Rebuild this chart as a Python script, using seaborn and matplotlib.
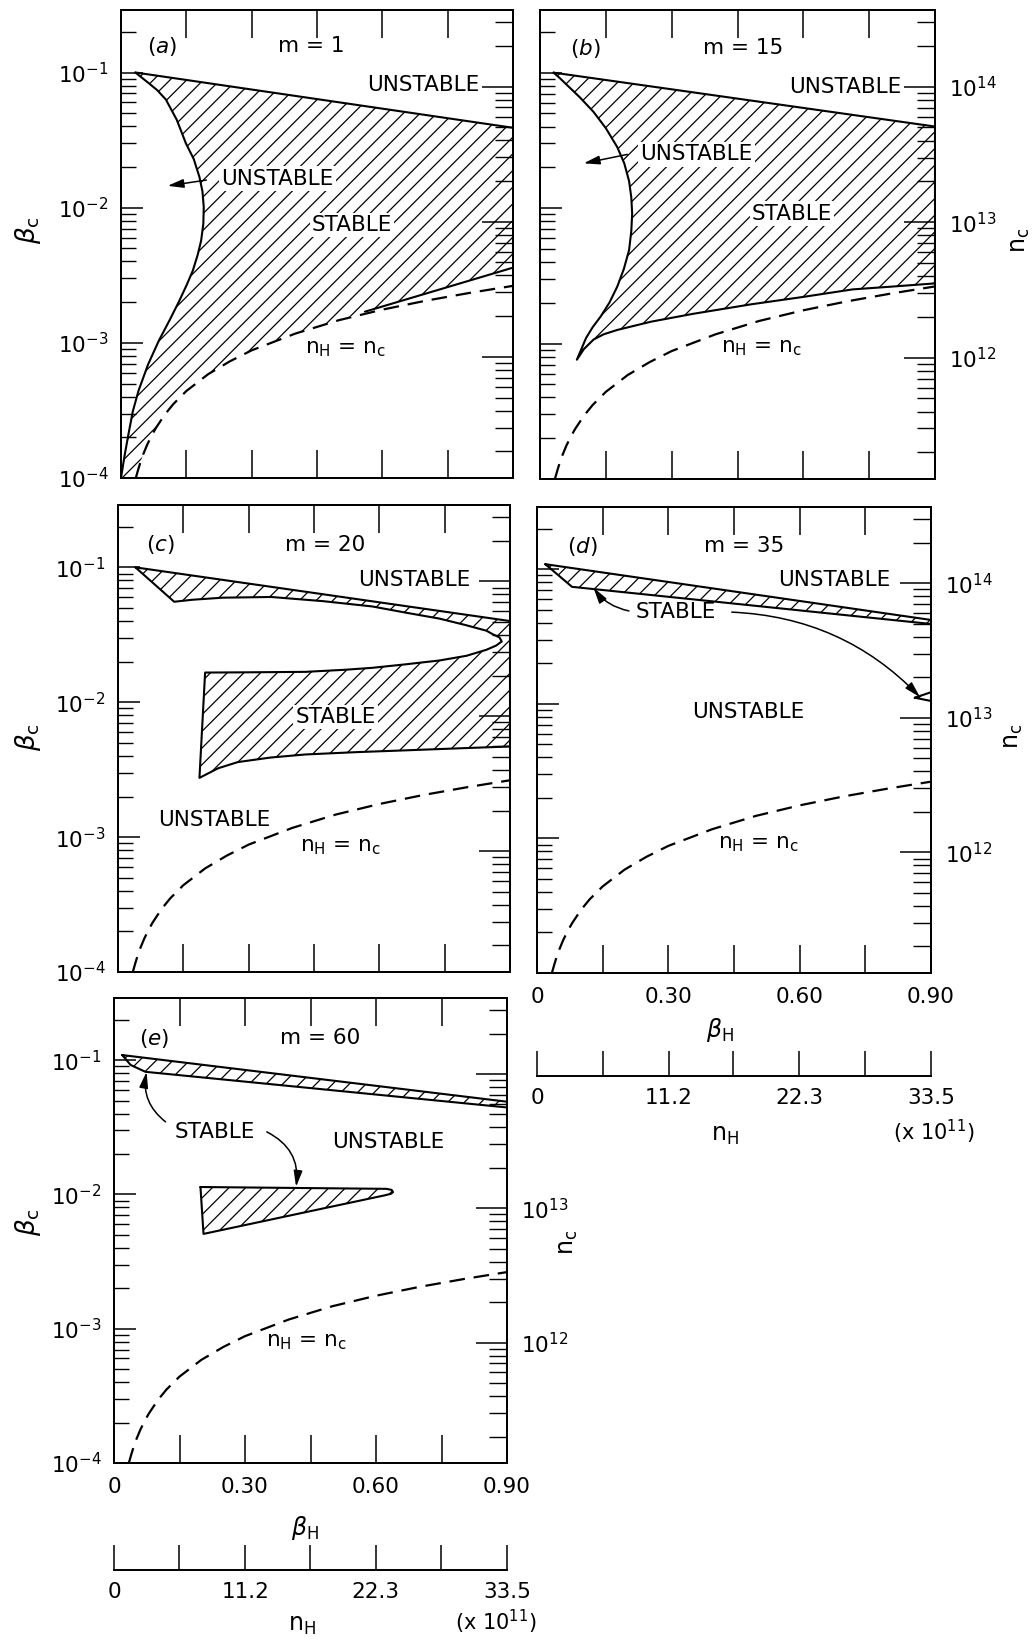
import numpy as np
import matplotlib
matplotlib.use("Agg")
import matplotlib.pyplot as plt
import seaborn as sns
from matplotlib.ticker import LogLocator, NullFormatter

sns.set_theme(style="ticks", rc={
    "axes.linewidth": 1.4,
    "axes.edgecolor": "black",
    "text.color": "black",
    "axes.labelcolor": "black",
    "xtick.color": "black",
    "ytick.color": "black",
    "hatch.linewidth": 0.9,
})
plt.rcParams["font.family"] = ["DejaVu Sans"]
plt.rcParams["mathtext.fontset"] = "dejavusans"

# ---- axes ----
bc_lo, bc_hi = 1e-4, 0.29
bh_ticks = [0, 0.15, 0.30, 0.45, 0.60, 0.75, 0.90]
bh_tick_labels = ["0", "", "0.30", "", "0.60", "", "0.90"]
bc_ticks = [1e-4, 1e-3, 1e-2, 1e-1]
bc_tick_labels = ["10$^{-4}$", "10$^{-3}$", "10$^{-2}$", "10$^{-1}$"]
nc_ticks = [1e12, 1e13, 1e14]
nc_tick_labels = ["10$^{12}$", "10$^{13}$", "10$^{14}$"]
nc_per_bc = 1.27e15          # right axis: n_c = 1.27e15 * beta_c
nh_ticks = [0, 5.58, 11.2, 16.7, 22.3, 27.9, 33.5]
nh_tick_labels = ["0", "", "11.2", "", "22.3", "", "33.5"]

# dashed n_H = n_c curve
eq_bh = [0.034, 0.04, 0.045, 0.05, 0.06, 0.07, 0.08, 0.10, 0.12, 0.15, 0.20, 0.25,
         0.30, 0.40, 0.50, 0.60, 0.70, 0.80, 0.90]
eq_bc = [1.0e-4, 1.17e-4, 1.32e-4, 1.47e-4, 1.76e-4, 2.05e-4, 2.34e-4, 2.93e-4, 3.52e-4,
         4.4e-4, 5.86e-4, 7.3e-4, 8.8e-4, 1.17e-3, 1.47e-3, 1.76e-3, 2.05e-3, 2.34e-3, 2.64e-3]

# ---- (a) m = 1 ----
a_top_bh = [0.033, 0.90]
a_top_bc = [0.100, 0.039]
a_low_bh = [0.56, 0.90]
a_low_bc = [0.0017, 0.0036]
a_nose_bh = [0.033, 0.064, 0.083, 0.103, 0.128, 0.149, 0.167, 0.180, 0.187, 0.190, 0.189,
             0.184, 0.176, 0.165, 0.151, 0.134, 0.112, 0.087, 0.062, 0.040, 0.027, 0.017,
             0.008, 0.0]
a_nose_bc = [0.100, 0.0832, 0.0741, 0.0631, 0.0447, 0.0299, 0.0229, 0.0169, 0.0132, 0.0101,
             0.00759, 0.00571, 0.00447, 0.00343, 0.00269, 0.00205, 0.00148, 0.00104,
             6.9e-4, 4.4e-4, 3.1e-4, 2.1e-4, 1.45e-4, 1.0e-4]

# ---- (b) m = 15 ----
b_bh = [0.031, 0.900, 0.900, 0.800, 0.712, 0.600, 0.482, 0.350, 0.253, 0.176, 0.145,
        0.122, 0.100, 0.084, 0.105, 0.120, 0.138, 0.158, 0.176, 0.191, 0.203, 0.208,
        0.210, 0.208, 0.203, 0.192, 0.176, 0.150, 0.122, 0.090, 0.061, 0.045, 0.031]
b_bc = [0.100, 0.040, 0.00278, 0.00263, 0.00251, 0.00221, 0.00195, 0.00166, 0.00145,
        0.00126, 0.00117, 0.00107, 9.1e-4, 7.6e-4, 0.0011, 0.00132, 0.00158, 0.0020,
        0.00263, 0.00355, 0.0049, 0.00676, 0.0091, 0.0120, 0.0158, 0.0214, 0.0282,
        0.0389, 0.0513, 0.0661, 0.0813, 0.0912, 0.100]

# ---- (c) m = 20 ----
c_bh = [0.040, 0.900, 0.900, 0.780, 0.661, 0.550, 0.430, 0.350, 0.275, 0.230, 0.187,
        0.200, 0.300, 0.430, 0.520, 0.584, 0.660, 0.738, 0.800, 0.846, 0.868, 0.881,
        0.876, 0.860, 0.846, 0.800, 0.738, 0.660, 0.584, 0.470, 0.352, 0.240, 0.170,
        0.129, 0.040]
c_bc = [0.100, 0.040, 0.0047, 0.00455, 0.0044, 0.00427, 0.0041, 0.00389, 0.0036, 0.00324,
        0.00275, 0.0166, 0.01667, 0.0168, 0.0174, 0.0180, 0.0191, 0.0204, 0.0221, 0.0245,
        0.0263, 0.0282, 0.0302, 0.0320, 0.0339, 0.0372, 0.0417, 0.0462, 0.0513, 0.0562,
        0.0603, 0.0596, 0.0575, 0.0556, 0.100]

# ---- (d) m = 35 ----
d_top_bh = [0.019, 0.900, 0.900, 0.080, 0.019]
d_top_bc = [0.109, 0.042, 0.0392, 0.074, 0.109]
d_tri_bh = [0.863, 0.900, 0.900, 0.863]
d_tri_bc = [0.0111, 0.0122, 0.0105, 0.0111]

# ---- (e) m = 60 ----
e_top_bh = [0.019, 0.900, 0.900, 0.072, 0.038, 0.019]
e_top_bc = [0.109, 0.049, 0.0444, 0.0818, 0.092, 0.109]
e_tri_bh = [0.198, 0.624, 0.636, 0.639, 0.634, 0.620, 0.205, 0.198]
e_tri_bc = [0.01135, 0.0110, 0.0108, 0.0104, 0.0101, 0.00984, 0.00508, 0.01135]

n_eq = "n$_\\mathrm{H}$ = n$_\\mathrm{c}$"

# text: (string, beta_H, beta_c, white box)
a_texts = [("($a$)", 0.095, 0.156, False), ("m = 1", 0.437, 0.156, False),
           ("UNSTABLE", 0.694, 0.081, False), ("UNSTABLE", 0.359, 0.0164, True),
           ("STABLE", 0.530, 0.0074, True), (n_eq, 0.515, 9.0e-4, False)]
b_texts = [("($b$)", 0.103, 0.151, False), ("m = 15", 0.463, 0.151, False),
           ("UNSTABLE", 0.696, 0.079, False), ("UNSTABLE", 0.356, 0.0249, True),
           ("STABLE", 0.574, 0.0091, True), (n_eq, 0.505, 9.3e-4, False)]
c_texts = [("($c$)", 0.098, 0.147, False), ("m = 20", 0.476, 0.147, False),
           ("UNSTABLE", 0.680, 0.081, False), ("STABLE", 0.499, 0.0078, True),
           ("UNSTABLE", 0.221, 0.00133, False), (n_eq, 0.511, 8.4e-4, False)]
d_texts = [("($d$)", 0.103, 0.148, False), ("m = 35", 0.472, 0.148, False),
           ("UNSTABLE", 0.680, 0.083, False), ("STABLE", 0.316, 0.048, False),
           ("UNSTABLE", 0.483, 0.0087, False), (n_eq, 0.506, 9.1e-4, False)]
e_texts = [("($e$)", 0.091, 0.145, False), ("m = 60", 0.472, 0.145, False),
           ("STABLE", 0.232, 0.0292, False), ("UNSTABLE", 0.628, 0.0245, False),
           (n_eq, 0.441, 7.9e-4, False)]

# arrows: (tail bh, tail bc, head bh, head bc, curvature)
a_arrows = [(0.196, 0.0160, 0.107, 0.0145, 0.0)]
b_arrows = [(0.199, 0.0249, 0.0995, 0.0214, 0.0)]
d_arrows = [(0.21, 0.049, 0.129, 0.073, -0.2), (0.445, 0.048, 0.875, 0.0112, -0.2)]
e_arrows = [(0.118, 0.0347, 0.0746, 0.0818, -0.3), (0.35, 0.0292, 0.417, 0.0114, -0.35)]

W, H = 1036, 1645
fig = plt.figure(figsize=(W / 100, H / 100), dpi=100)
TICK_FS = 15.5
TEXT_FS = 15.5


def px_rect(l, t, r, b):
    return [l / W, 1 - b / H, (r - l) / W, (b - t) / H]


def fig_text(x, y, s, **kw):
    fig.text(x / W, 1 - y / H, s, ha="center", va="center", **kw)


def panel(box, show_left, show_bottom, nc_labels):
    ax = fig.add_axes(px_rect(*box))
    ax.set_yscale("log")
    ax.set_xlim(0, 0.9)
    ax.set_ylim(bc_lo, bc_hi)
    ax2 = ax.twinx()
    ax2.set_yscale("log")
    ax2.set_ylim(bc_lo * nc_per_bc, bc_hi * nc_per_bc)

    ax.set_xticks(bh_ticks, labels=bh_tick_labels if show_bottom else [""] * len(bh_ticks))
    ax.set_yticks(bc_ticks, labels=bc_tick_labels if show_left else [""] * len(bc_ticks))
    ax.yaxis.set_minor_locator(LogLocator(base=10, subs=np.arange(2, 10), numticks=20))
    ax.yaxis.set_minor_formatter(NullFormatter())
    ax.tick_params(axis="x", direction="in", top=True, bottom=True, length=20,
                   width=1.1, pad=10, labelsize=TICK_FS)
    ax.tick_params(axis="y", which="major", direction="in", left=True, right=False,
                   length=16, width=1.1, pad=9, labelsize=TICK_FS)
    ax.tick_params(axis="y", which="minor", direction="in", left=True, right=False,
                   length=11, width=1.0)

    ax2.set_yticks(nc_ticks, labels=nc_labels)
    ax2.yaxis.set_minor_locator(LogLocator(base=10, subs=np.arange(2, 10), numticks=20))
    ax2.yaxis.set_minor_formatter(NullFormatter())
    ax2.tick_params(axis="y", which="major", direction="in", right=True, left=False,
                    length=22, width=1.1, pad=10, labelsize=TICK_FS)
    ax2.tick_params(axis="y", which="minor", direction="in", right=True, left=False,
                    length=13, width=1.0)
    for s in ax2.spines.values():
        s.set_linewidth(1.4)
    return ax


def line(ax, bh, bc, dashed=False):
    sns.lineplot(x=bh, y=bc, ax=ax, sort=False, estimator=None, color="black",
                 linewidth=1.6 if dashed else 1.5)
    if dashed:
        ax.lines[-1].set_dashes([7, 4])


def hatch(ax, bh, bc):
    ax.fill(bh, bc, facecolor="none", edgecolor="black", hatch="//", linewidth=0, zorder=1.5)


def label(ax, texts):
    for s, x, y, boxed in texts:
        kw = {}
        if boxed:
            kw["bbox"] = dict(boxstyle="square,pad=0.1", fc="white", ec="none")
        ax.text(x, y, s, ha="center", va="center", fontsize=TEXT_FS, zorder=5, **kw)


def arrows(ax, items):
    for tx, ty, hx, hy, rad in items:
        ax.annotate("", xy=(hx, hy), xytext=(tx, ty), zorder=6,
                    arrowprops=dict(arrowstyle="-|>,head_length=0.8,head_width=0.22",
                                    color="black", lw=1.1, shrinkA=0, shrinkB=0,
                                    connectionstyle=f"arc3,rad={rad}"))


def nh_axis(box):
    ax = fig.add_axes(px_rect(*box))
    ax.set_xlim(0, 33.5)
    ax.set_ylim(0, 1)
    for s in ("left", "right", "top"):
        ax.spines[s].set_visible(False)
    ax.set_yticks([])
    ax.set_xticks(nh_ticks, labels=nh_tick_labels)
    ax.tick_params(axis="x", direction="in", length=18, width=1.1, pad=9, labelsize=TICK_FS)
    ax.patch.set_alpha(0)


blank = ["", "", ""]

# (a)
ax = panel((121, 10, 513, 478), True, False, blank)
eq_low = [(x, y) for x, y in zip(eq_bh[::-1], eq_bc[::-1]) if x < 0.56]
poly_bh = a_top_bh + [0.9] + a_low_bh[::-1] + [p[0] for p in eq_low] + a_nose_bh[::-1]
poly_bc = a_top_bc + [0.0036] + a_low_bc[::-1] + [p[1] for p in eq_low] + a_nose_bc[::-1]
hatch(ax, poly_bh, poly_bc)
line(ax, a_top_bh, a_top_bc)
line(ax, a_low_bh, a_low_bc)
line(ax, a_nose_bh, a_nose_bc)
line(ax, eq_bh, eq_bc, dashed=True)
label(ax, a_texts)
arrows(ax, a_arrows)

# (b)
ax = panel((540, 10, 935, 479), False, False, nc_tick_labels)
hatch(ax, b_bh, b_bc)
line(ax, b_bh, b_bc)
line(ax, eq_bh, eq_bc, dashed=True)
label(ax, b_texts)
arrows(ax, b_arrows)

# (c)
ax = panel((118, 505, 510, 972), True, False, blank)
hatch(ax, c_bh, c_bc)
line(ax, c_bh, c_bc)
line(ax, eq_bh, eq_bc, dashed=True)
label(ax, c_texts)

# (d)
ax = panel((537, 507, 931, 973), False, True, nc_tick_labels)
for bh, bc in [(d_top_bh, d_top_bc), (d_tri_bh, d_tri_bc)]:
    hatch(ax, bh, bc)
    line(ax, bh, bc)
line(ax, eq_bh, eq_bc, dashed=True)
label(ax, d_texts)
arrows(ax, d_arrows)
nh_axis((537, 1051, 931, 1076))

# (e)
ax = panel((114, 998, 507, 1463), True, True, ["10$^{12}$", "10$^{13}$", ""])
for bh, bc in [(e_top_bh, e_top_bc), (e_tri_bh, e_tri_bc)]:
    hatch(ax, bh, bc)
    line(ax, bh, bc)
line(ax, eq_bh, eq_bc, dashed=True)
label(ax, e_texts)
arrows(ax, e_arrows)
nh_axis((114, 1545, 507, 1570))

# axis titles
for x, y in [(28, 230), (28, 737), (28, 1222)]:
    fig_text(x, y, "$\\beta_\\mathrm{c}$", fontsize=19, rotation=90)
for x, y in [(1020, 240), (1013, 736), (568, 1242)]:
    fig_text(x, y, "n$_\\mathrm{c}$", fontsize=17, rotation=90)
for x, y in [(720, 1030), (305, 1528)]:
    fig_text(x, y, "$\\beta_\\mathrm{H}$", fontsize=17)
for x, y in [(725, 1135), (302, 1625)]:
    fig_text(x, y, "n$_\\mathrm{H}$", fontsize=17)
for x, y in [(934, 1132), (496, 1622)]:
    fig_text(x, y, "(x 10$^{11}$)", fontsize=15)

fig.savefig("out.png", dpi=100)
